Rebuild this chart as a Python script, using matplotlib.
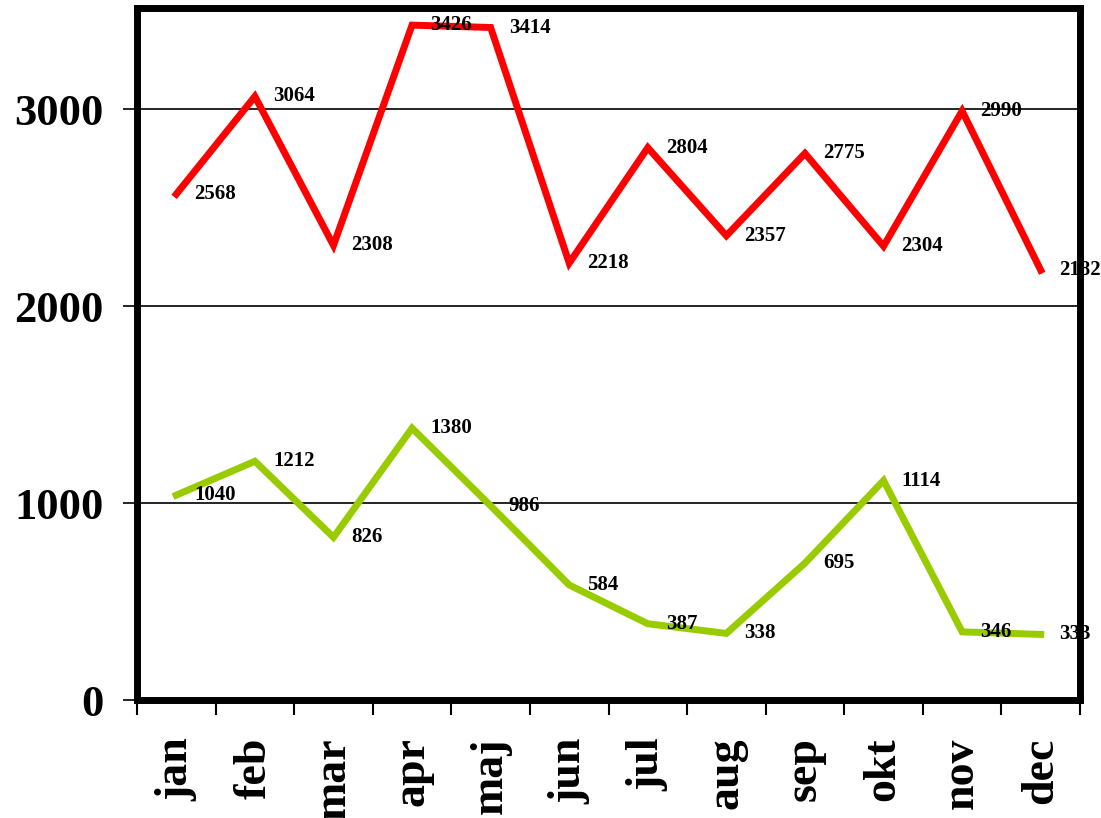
import matplotlib
matplotlib.use("Agg")
import matplotlib.pyplot as plt
import numpy as np

months = ["jan", "feb", "mar", "apr", "maj", "jun", "jul", "aug", "sep", "okt", "nov", "dec"]
red_values = [2568, 3064, 2308, 3426, 3414, 2218, 2804, 2357, 2775, 2304, 2990, 2182]
green_values = [1040, 1212, 826, 1380, 986, 584, 387, 338, 695, 1114, 346, 333]
y_ticks = [0, 1000, 2000, 3000]

plt.rcParams['font.family'] = ['Liberation Serif']

fig = plt.figure(figsize=(11.01, 8.18), dpi=100)
ax = fig.add_axes([137/1101, 1-700/818, (1080-137)/1101, (700-8)/818])

x = np.arange(len(months))
ax.plot(x, red_values, color="#FF0000", lw=5, solid_joinstyle="miter", zorder=3)
ax.plot(x, green_values, color="#99CC00", lw=5, solid_joinstyle="miter", zorder=3)

for xi, v in zip(x, red_values):
    ax.annotate(str(v), (xi, v), xytext=(13, 0), textcoords="offset points",
                ha="left", va="center", fontsize=15, fontweight="bold", zorder=4)
for xi, v in zip(x, green_values):
    ax.annotate(str(v), (xi, v), xytext=(13, 0), textcoords="offset points",
                ha="left", va="center", fontsize=15, fontweight="bold", zorder=4)

ax.set_xlim(-0.5, len(months) - 0.5)
ax.set_ylim(0, 3513)
ax.set_yticks(y_ticks)
ax.set_yticklabels([str(t) for t in y_ticks], fontsize=32, fontweight="bold")
ax.yaxis.grid(True, color="black", lw=1.2)
ax.set_axisbelow(True)

ax.set_xticks(x)
ax.set_xticklabels(months, rotation=90, fontsize=33, fontweight="bold")
ax.set_xticks(np.arange(-0.5, len(months), 1), minor=True)
ax.tick_params(axis="x", which="major", length=0, pad=27)
ax.tick_params(axis="x", which="minor", length=11, width=1.5, direction="out")
ax.tick_params(axis="y", which="major", length=10, width=1.2, direction="out", pad=14)

for s in ax.spines.values():
    s.set_linewidth(5)
    s.set_color("black")
    s.set_zorder(5)

fig.savefig("out.png", dpi=100)
